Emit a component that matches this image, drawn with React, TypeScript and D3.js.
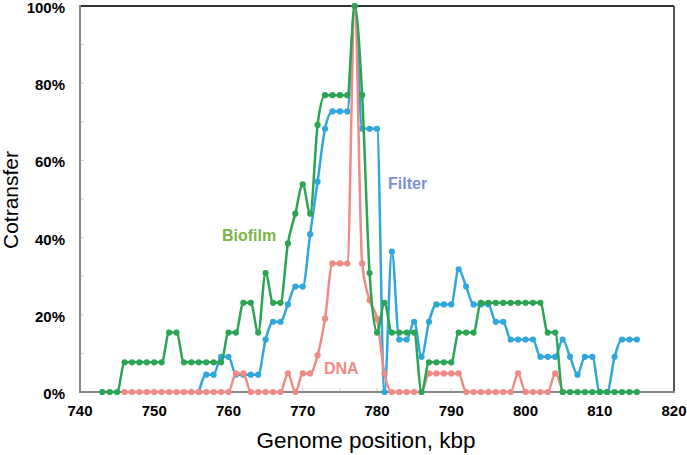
import React from "react";
import * as d3 from "d3";

// Genome positions (kbp) where each series starts; points are 1 kbp apart
const biofilmStart = 743;
const filterStart = 756;
const dnaStart = 746;

// Cotransfer values (%)
const biofilmValues = [
  0, 0, 0, 7.7, 7.7, 7.7, 7.7, 7.7, 7.7, 15.4, 15.4, 7.7, 7.7, 7.7, 7.7, 7.7, 7.7,
  15.4, 15.4, 23.1, 23.1, 15.4, 30.8, 23.1, 23.1, 38.5, 46.2, 53.8, 46.2, 69.2,
  76.9, 76.9, 76.9, 76.9, 100, 76.9, 30.8, 15.4, 23.1, 15.4, 15.4, 15.4, 15.4, 0,
  7.7, 7.7, 7.7, 7.7, 15.4, 15.4, 15.4, 23.1, 23.1, 23.1, 23.1, 23.1, 23.1, 23.1,
  23.1, 23.1, 15.4, 15.4, 0, 0, 0, 0, 0, 0, 0, 0, 0, 0, 0,
];
const filterValues = [
  0, 4.5, 4.5, 9.1, 9.1, 4.5, 4.5, 4.5, 4.5, 13.6, 18.2, 18.2, 22.7, 27.3, 27.3,
  40.9, 54.5, 68.2, 72.7, 72.7, 72.7, 100, 68.2, 68.2, 68.2, 0, 36.4, 13.6, 13.6,
  18.2, 9.1, 18.2, 22.7, 22.7, 22.7, 31.8, 27.3, 22.7, 22.7, 22.7, 18.2, 18.2, 13.6,
  13.6, 13.6, 13.6, 9.1, 9.1, 9.1, 13.6, 9.1, 4.5, 9.1, 9.1, 0, 0, 9.1, 13.6, 13.6,
  13.6,
];
const dnaValues = [
  0, 0, 0, 0, 0, 0, 0, 0, 0, 0, 0, 0, 0, 0, 0, 4.8, 4.8, 0, 0, 0, 0, 0, 4.8, 0,
  4.8, 4.8, 9.5, 19.0, 33.3, 33.3, 33.3, 100, 33.3, 23.8, 19.0, 4.8, 0, 0, 0, 0, 0,
  4.8, 4.8, 4.8, 4.8, 4.8, 0, 0, 0, 0, 0, 0, 0, 4.8, 0, 0, 0, 0, 4.8, 0,
];

const xTicks = [740, 750, 760, 770, 780, 790, 800, 810, 820];
const yTicks = [0, 20, 40, 60, 80, 100];
const xMinorTicks = [745, 755, 765, 775, 785, 795, 805, 815];
const yMinorTicks = [10, 30, 50, 70, 90];

const seriesDefs = [
  { name: "Filter", start: filterStart, values: filterValues, color: "#2fa6dc" },
  { name: "DNA", start: dnaStart, values: dnaValues, color: "#ef8a84" },
  { name: "Biofilm", start: biofilmStart, values: biofilmValues, color: "#2ba453" },
];

export default function App() {
  const W = 687;
  const H = 455;
  const left = 80;
  const right = 674;
  const top = 6;
  const bottom = 392;

  const x = d3.scaleLinear().domain([740, 820]).range([left, right]);
  const y = d3.scaleLinear().domain([0, 100]).range([bottom, top]);

  const line = d3
    .line<[number, number]>()
    .x((d) => x(d[0]))
    .y((d) => y(d[1]))
    .curve(d3.curveMonotoneX);

  const font = "Liberation Sans, Arial, Helvetica, sans-serif";

  return (
    <svg
      width={W}
      height={H}
      style={{ position: "absolute", left: 0, top: 0, background: "#fff" }}
      fontFamily={font}
    >
      {/* minor ticks */}
      {yMinorTicks.concat(yTicks).map((t) => (
        <line key={"ym" + t} x1={left} x2={left + 4} y1={y(t)} y2={y(t)} stroke="#ccc" strokeWidth={1} />
      ))}
      {xMinorTicks.concat(xTicks).map((t) => (
        <line key={"xm" + t} x1={x(t)} x2={x(t)} y1={bottom} y2={bottom - 4} stroke="#ccc" strokeWidth={1} />
      ))}

      {/* frame */}
      <line x1={left} x2={right} y1={top} y2={top} stroke="#333" strokeWidth={2} />
      <line x1={right} x2={right} y1={top} y2={bottom} stroke="#555" strokeWidth={2} />
      <line x1={left} x2={left} y1={top - 1} y2={bottom + 1} stroke="#888" strokeWidth={2} />
      <line x1={left} x2={right + 1} y1={bottom} y2={bottom} stroke="#888" strokeWidth={2} />

      {/* series */}
      {seriesDefs.map((s) => {
        const pts: [number, number][] = s.values.map((v, i) => [s.start + i, v]);
        return (
          <g key={s.name}>
            <path d={line(pts) || ""} fill="none" stroke={s.color} strokeWidth={2.5} />
            {pts.map((p, i) => (
              <circle key={i} cx={x(p[0])} cy={y(p[1])} r={3.1} fill={s.color} />
            ))}
          </g>
        );
      })}

      {/* tick labels */}
      {yTicks.map((t) => (
        <text
          key={"yl" + t}
          x={65}
          y={y(t) + 1.5}
          dy="0.36em"
          textAnchor="end"
          fontSize={15}
          fontWeight="bold"
          fill="#000"
        >
          {t}%
        </text>
      ))}
      {xTicks.map((t) => (
        <text
          key={"xl" + t}
          x={x(t)}
          y={416}
          textAnchor="middle"
          fontSize={15}
          fontWeight="bold"
          fill="#000"
        >
          {t}
        </text>
      ))}

      {/* series labels */}
      <text x={222} y={240.5} fontSize={16} fontWeight="bold" fill="#7ab547">
        Biofilm
      </text>
      <text x={388} y={189} fontSize={16} fontWeight="bold" fill="#7b8fd0">
        Filter
      </text>
      <text x={324} y={374} fontSize={16} fontWeight="bold" fill="#ef8a84">
        DNA
      </text>

      {/* axis titles */}
      <text x={366} y={448} textAnchor="middle" fontSize={22.5} fill="#000">
        Genome position, kbp
      </text>
      <text
        transform={`translate(${18},${200}) rotate(-90)`}
        textAnchor="middle"
        fontSize={21}
        fill="#000"
      >
        Cotransfer
      </text>
    </svg>
  );
}
